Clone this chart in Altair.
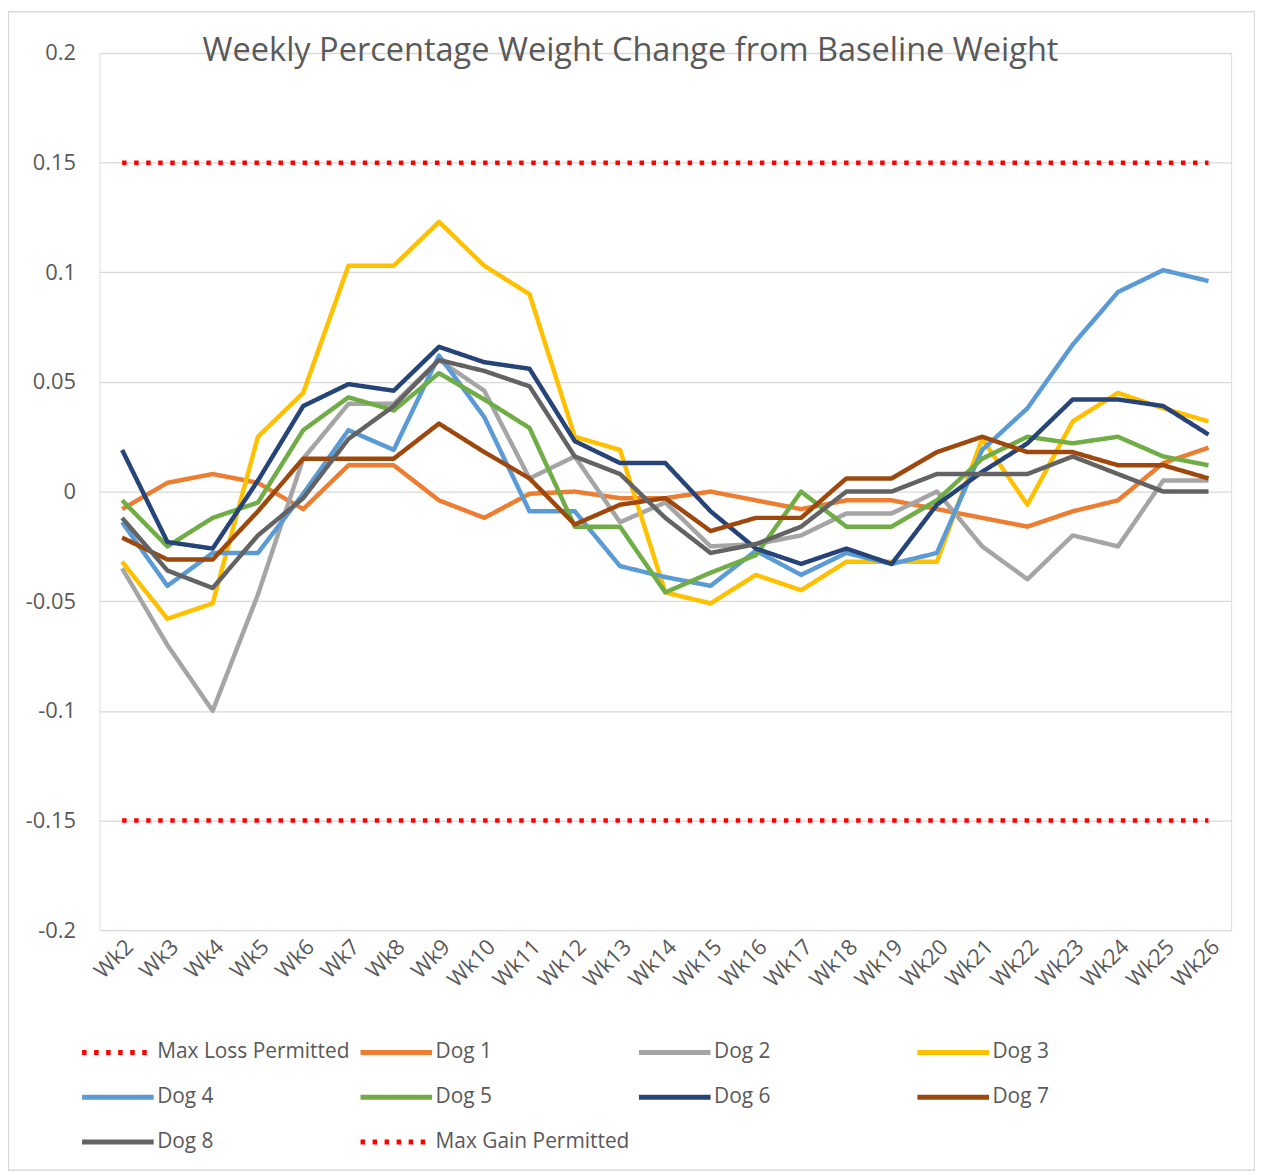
import altair as alt
import pandas as pd

weeks = ["Wk2", "Wk3", "Wk4", "Wk5", "Wk6", "Wk7", "Wk8", "Wk9", "Wk10", "Wk11", "Wk12",
         "Wk13", "Wk14", "Wk15", "Wk16", "Wk17", "Wk18", "Wk19", "Wk20", "Wk21", "Wk22",
         "Wk23", "Wk24", "Wk25", "Wk26"]

max_loss = [-0.15] * 25
max_gain = [0.15] * 25
dog1 = [-0.008, 0.004, 0.008, 0.004, -0.008, 0.012, 0.012, -0.004, -0.012, -0.001, 0.0,
        -0.003, -0.003, 0.0, -0.004, -0.008, -0.004, -0.004, -0.008, -0.012, -0.016,
        -0.009, -0.004, 0.013, 0.020]
dog2 = [-0.035, -0.070, -0.100, -0.047, 0.015, 0.040, 0.040, 0.060, 0.046, 0.006, 0.016,
        -0.014, -0.005, -0.025, -0.024, -0.020, -0.010, -0.010, 0.000, -0.025, -0.040,
        -0.020, -0.025, 0.005, 0.005]
dog3 = [-0.032, -0.058, -0.051, 0.025, 0.045, 0.103, 0.103, 0.123, 0.103, 0.090, 0.025,
        0.019, -0.046, -0.051, -0.038, -0.045, -0.032, -0.032, -0.032, 0.024, -0.006,
        0.032, 0.045, 0.038, 0.032]
dog4 = [-0.014, -0.043, -0.028, -0.028, -0.001, 0.028, 0.019, 0.062, 0.034, -0.009, -0.009,
        -0.034, -0.039, -0.043, -0.027, -0.038, -0.028, -0.033, -0.028, 0.019, 0.038,
        0.067, 0.091, 0.101, 0.096]
dog5 = [-0.004, -0.025, -0.012, -0.005, 0.028, 0.043, 0.037, 0.054, 0.042, 0.029, -0.016,
        -0.016, -0.046, -0.037, -0.029, 0.000, -0.016, -0.016, -0.004, 0.015, 0.025,
        0.022, 0.025, 0.016, 0.012]
dog6 = [0.019, -0.023, -0.026, 0.005, 0.039, 0.049, 0.046, 0.066, 0.059, 0.056, 0.023,
        0.013, 0.013, -0.009, -0.026, -0.033, -0.026, -0.033, -0.006, 0.009, 0.022,
        0.042, 0.042, 0.039, 0.026]
dog7 = [-0.021, -0.031, -0.031, -0.009, 0.015, 0.015, 0.015, 0.031, 0.018, 0.006, -0.015,
        -0.006, -0.003, -0.018, -0.012, -0.012, 0.006, 0.006, 0.018, 0.025, 0.018,
        0.018, 0.012, 0.012, 0.006]
dog8 = [-0.012, -0.036, -0.044, -0.020, -0.003, 0.024, 0.039, 0.060, 0.055, 0.048, 0.016,
        0.008, -0.012, -0.028, -0.024, -0.016, 0.000, 0.000, 0.008, 0.008, 0.008,
        0.016, 0.008, 0.000, 0.000]

series_names = ["Max Loss Permitted", "Dog 1", "Dog 2", "Dog 3", "Dog 4", "Dog 5",
                "Dog 6", "Dog 7", "Dog 8", "Max Gain Permitted"]
series_values = [max_loss, dog1, dog2, dog3, dog4, dog5, dog6, dog7, dog8, max_gain]
series_colors = ["#FF0000", "#ED7D31", "#A5A5A5", "#FFC000", "#5B9BD5", "#70AD47",
                 "#264478", "#9E480E", "#636363", "#FF0000"]
dot = [4.5, 7.6]
solid = [1, 0]
series_dash = [dot, solid, solid, solid, solid, solid, solid, solid, solid, dot]

y_ticks = [-0.2, -0.15, -0.1, -0.05, 0, 0.05, 0.1, 0.15, 0.2]
title_text = "Weekly Percentage Weight Change from Baseline Weight"

rows = []
for name, vals in zip(series_names, series_values):
    for wk, v in zip(weeks, vals):
        rows.append({"week": wk, "value": v, "series": name})
df = pd.DataFrame(rows)

FONT = "Open Sans"
GREY = "#595959"


def make_legend():
    return alt.Legend(title=None, orient="none", legendX=-20, legendY=992,
                      direction="horizontal", columns=4, gridAlign="all",
                      symbolType="stroke", symbolSize=5184, symbolStrokeWidth=5,
                      labelFontSize=21, labelColor=GREY, labelFont=FONT, labelOffset=1,
                      columnPadding=7, rowPadding=19, clipHeight=26, labelLimit=400)


lines = alt.Chart(df).mark_line(strokeWidth=4.5, strokeJoin="round").encode(
    x=alt.X("week:N", sort=weeks, scale=alt.Scale(type="point", padding=0.5),
            axis=alt.Axis(title=None, labelAngle=-45, labelFontSize=22, labelColor=GREY,
                          labelFont=FONT, domain=False, ticks=False, grid=False,
                          labelPadding=6)),
    y=alt.Y("value:Q", scale=alt.Scale(domain=[-0.2, 0.2], nice=False),
            axis=alt.Axis(title=None, values=y_ticks, labelExpr="'' + datum.value",
                          labelFontSize=22, labelColor=GREY, labelFont=FONT,
                          domain=False, ticks=False, grid=True, gridColor="#D9D9D9",
                          gridWidth=1.3, labelPadding=24)),
    color=alt.Color("series:N", scale=alt.Scale(domain=series_names, range=series_colors),
                    legend=make_legend()),
    strokeDash=alt.StrokeDash("series:N",
                              scale=alt.Scale(domain=series_names, range=series_dash),
                              legend=make_legend()),
)

title = alt.Chart(alt.Data(values=[{"t": title_text}])).mark_text(
    font=FONT, fontSize=32.7, color=GREY, align="center", baseline="alphabetic"
).encode(text="t:N", x=alt.value(534), y=alt.value(8))

border = alt.Chart(alt.Data(values=[{}])).mark_rect(
    filled=False, stroke="#D9D9D9", strokeWidth=1.3
).encode(
    x=alt.value(-91.5), x2=alt.value(1161.5), y=alt.value(-41.5), y2=alt.value(1123.5)
)

chart = alt.layer(border, lines, title).properties(
    width=1138, height=882,
    autosize=alt.AutoSizeParams(type="none"),
    padding={"left": 92, "top": 42, "right": 24, "bottom": 243},
).configure_view(stroke=None).configure(background="white")

chart.save("out.html", embed_options={"renderer": "svg", "actions": False})
